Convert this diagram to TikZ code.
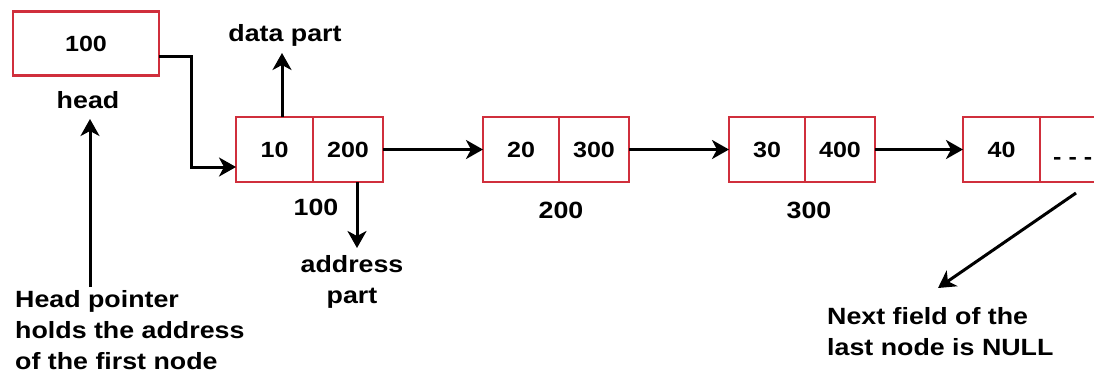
\documentclass[tikz,border=0pt]{standalone}
\usepackage{fontspec}
\setmainfont{Liberation Sans}[FakeStretch=1.14]
\usetikzlibrary{arrows.meta,calc}
\definecolor{boxred}{RGB}{208,47,60}
\newcommand\lblfont{\fontsize{23.5}{31}\selectfont\bfseries}
\newcommand\cellfont{\fontsize{22}{26}\selectfont\bfseries}
\begin{document}
\begin{tikzpicture}[x=1pt,y=-1pt,
  cell/.style={draw=boxred, line width=2.2pt, minimum height=65pt,
    inner sep=0pt, outer sep=0pt, font=\cellfont},
  lbl/.style={inner sep=0pt, font=\lblfont},
  conn/.style={line width=3pt, draw=black},
  arr/.style={conn, -{Stealth[length=17pt,width=19pt,inset=5pt]}}]
\useasboundingbox (0,0) rectangle (1094,376);
\clip (0,0) rectangle (1094,376);

% head pointer box
\node[cell, minimum width=146pt, minimum height=64pt] (headbox) at (86,43.5) {100};
\node[lbl, anchor=base] (headlbl) at (88,108) {head};

% list nodes: data cell + address cell
\node[cell, minimum width=77pt] (n1d) at (274.5,149.5) {10};
\node[cell, minimum width=70pt] (n1a) at (348,149.5) {200};
\node[cell, minimum width=76pt] (n2d) at (521,149.5) {20};
\node[cell, minimum width=70pt] (n2a) at (594,149.5) {300};
\node[cell, minimum width=76pt] (n3d) at (767,149.5) {30};
\node[cell, minimum width=70pt] (n3a) at (840,149.5) {400};
\node[cell, minimum width=77pt] (n4d) at (1001.5,149.5) {40};
\node[cell, minimum width=72pt] (n4a) at (1076,149.5) {};
\node[lbl, font=\cellfont, anchor=base west] (nullmark) at (1053,164) {- - -};

% node addresses
\node[lbl, anchor=base] (adr1) at (316,215) {100};
\node[lbl, anchor=base] (adr2) at (561,218) {200};
\node[lbl, anchor=base] (adr3) at (809,218) {300};

% head -> first node
\draw[arr] ($(headbox.east)+(0,12.5)$) -- ++(32,0) |- ($(n1d.west)+(0,17.5)$);

% links between nodes
\draw[arr] (n1a.east) -- (n2d.west);
\draw[arr] (n2a.east) -- (n3d.west);
\draw[arr] (n3a.east) -- (n4d.west);

% data part / address part callouts
\node[lbl, anchor=base] (datalbl) at (285,41) {data part};
\coordinate (dtip) at (282,53);
\draw[arr] ($(n1d.north)+(7.5,0)$) -- (dtip);

\coordinate (atip) at (357,248);
\draw[arr] ($(n1a.south)+(9,0)$) -- (atip);
% multi-line nodes: base anchor sits on the last line
\node[lbl, align=center, anchor=base] (addrlbl) at (352,303) {address\\part};

% head pointer explanation
\coordinate (hpbot) at (90,287);
\coordinate (hptip) at (90,119);
\draw[arr] (hpbot) -- (hptip);
\node[lbl, align=left, anchor=base west] (hptext) at (15,369)
  {Head pointer\\holds the address\\of the first node};

% NULL explanation
\coordinate (nullstart) at (1076,193);
\coordinate (nulltip) at (938,288);
\draw[arr] (nullstart) -- (nulltip);
\node[lbl, align=left, anchor=base west] (nulltext) at (827,355)
  {Next field of the\\last node is NULL};
\end{tikzpicture}
\end{document}
